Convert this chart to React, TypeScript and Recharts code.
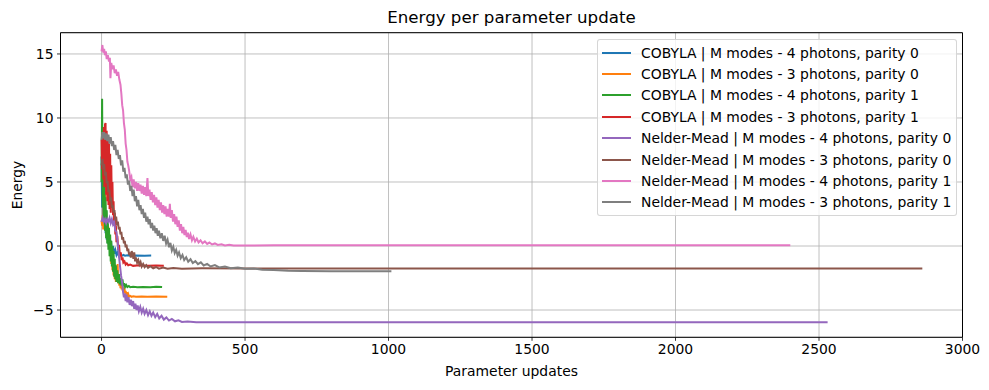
import React from "react";
import {
  LineChart,
  Line,
  XAxis,
  YAxis,
  CartesianGrid,
  Legend,
  ReferenceArea,
  Label,
} from "recharts";

// [parameter update, energy]
const cobyla4p0 = [
  [0, 7.0], [2, 3.0], [4, 6.2], [6, 2.2], [8, 4.8], [10, 1.5], [12, 3.6], [14, 1.0],
  [16, 2.8], [18, 0.5], [20, 2.0], [22, 0.2], [24, 1.3], [26, -0.1], [28, 0.8], [30, -0.3],
  [33, 0.4], [36, -0.5], [40, 0.0], [44, -0.6], [48, -0.3], [52, -0.7], [56, -0.5], [60, -0.75],
  [65, -0.6], [70, -0.78], [76, -0.7], [82, -0.76], [90, -0.72], [100, -0.76], [120, -0.74],
  [150, -0.76], [173, -0.75],
];

const cobyla3p0 = [
  [0, 2.0], [2, 1.6], [4, 2.4], [6, 1.3], [8, 3.9], [10, 1.8], [12, 4.3], [14, 1.2],
  [16, 2.6], [18, 0.9], [20, 2.0], [22, 0.4], [24, 1.5], [26, -0.2], [28, 0.8], [30, -0.8],
  [32, 0.3], [34, -1.4], [36, -0.6], [38, -1.9], [40, -1.1], [42, -2.3], [44, -1.6], [46, -2.6],
  [48, -2.0], [50, -2.8], [52, -1.9], [54, -2.5], [56, -1.4], [58, -2.9], [60, -2.2], [62, -3.1],
  [64, -2.5], [66, -3.3], [68, -2.8], [70, -3.4], [72, -3.0], [74, -3.5], [76, -3.2], [78, -3.6],
  [80, -3.3], [82, -3.7], [84, -3.5], [86, -3.8], [88, -3.6], [90, -3.9], [93, -3.75], [96, -3.95],
  [100, -3.9], [105, -3.97], [110, -3.92], [120, -3.96], [140, -3.95], [160, -3.97], [190, -3.95],
  [229, -3.96],
];

const cobyla4p1 = [
  [0, 5.0], [2, 11.5], [4, 3.0], [6, 8.0], [8, 2.0], [10, 5.5], [12, 1.2], [14, 3.8],
  [16, 0.6], [18, 2.8], [20, 0.2], [22, 2.0], [24, -0.3], [26, 1.4], [28, -0.8], [30, 0.9],
  [32, -1.2], [34, 0.4], [36, -1.6], [38, 0.0], [40, -2.0], [42, -0.4], [44, -2.4], [46, -1.0],
  [48, -2.6], [50, -1.5], [52, -2.8], [55, -1.9], [58, -2.9], [61, -2.2], [64, -3.0], [67, -2.5],
  [70, -3.1], [73, -2.6], [76, -3.15], [79, -2.9], [82, -3.2], [86, -3.05], [90, -3.2],
  [95, -3.12], [100, -3.22], [110, -3.18], [125, -3.22], [145, -3.2], [170, -3.22], [190, -3.19],
  [211, -3.21],
];

const cobyla3p1 = [
  [0, 8.3], [2, 6.0], [4, 8.9], [6, 5.2], [8, 9.3], [10, 4.6], [12, 9.5], [14, 9.6],
  [16, 4.0], [18, 9.0], [20, 3.5], [22, 8.6], [24, 3.2], [26, 8.0], [28, 2.9], [30, 7.2],
  [32, 2.6], [34, 6.3], [36, 3.0], [38, 5.0], [40, 2.4], [42, 3.5], [44, 1.6], [46, 2.6],
  [48, 0.9], [50, 1.6], [52, 0.3], [55, 0.8], [58, -0.3], [61, 0.1], [64, -0.8], [67, -0.5],
  [70, -1.1], [73, -0.9], [76, -1.3], [80, -1.2], [84, -1.45], [88, -1.35], [93, -1.5],
  [100, -1.45], [110, -1.55], [130, -1.5], [160, -1.55], [190, -1.52], [217, -1.55],
];

const nelder4p0 = [
  [0, 1.9], [4, 2.2], [8, 1.9], [12, 2.1], [16, 1.8], [20, 2.1], [24, 1.9], [28, 2.2],
  [32, 1.8], [36, 2.1], [40, 1.7], [44, 1.9], [48, 1.2], [52, 1.1], [56, 0.3], [60, -0.6],
  [64, -1.5], [68, -2.3], [72, -2.9], [75, -3.6], [78, -4.0], [81, -3.7], [84, -4.3], [87, -3.8],
  [90, -4.4], [94, -4.0], [98, -4.6], [102, -4.2], [106, -4.7], [110, -4.3], [114, -4.9],
  [118, -4.5], [122, -5.0], [126, -4.65], [130, -5.1], [135, -4.75], [140, -5.2], [145, -4.9],
  [150, -5.3], [156, -5.0], [162, -5.4], [168, -5.1], [174, -5.45], [180, -5.2], [187, -5.55],
  [194, -5.3], [201, -5.65], [209, -5.45], [217, -5.75], [226, -5.58], [235, -5.82], [245, -5.7],
  [256, -5.88], [268, -5.8], [280, -5.93], [300, -5.89], [330, -5.96], [380, -5.95],
  [500, -5.96], [1000, -5.96], [1500, -5.96], [2000, -5.96], [2530, -5.96],
];

const nelder3p0 = [
  [0, 6.3], [3, 6.8], [6, 6.0], [9, 6.4], [12, 5.5], [15, 5.8], [18, 4.9], [21, 5.1],
  [24, 4.2], [27, 4.4], [30, 3.5], [33, 3.8], [36, 3.0], [39, 3.2], [42, 2.6], [45, 2.8],
  [48, 2.0], [51, 2.3], [54, 1.6], [57, 1.9], [60, 1.3], [63, 1.5], [66, 0.9], [69, 1.1],
  [72, 0.5], [75, 0.7], [78, 0.2], [81, 0.4], [84, -0.1], [87, 0.1], [90, -0.4], [93, -0.2],
  [96, -0.7], [99, -0.5], [102, -0.9], [105, -0.4], [108, -0.6], [111, -1.0], [114, -0.5],
  [117, -1.2], [120, -0.9], [124, -1.3], [128, -1.1], [132, -1.45], [136, -1.25], [140, -1.6],
  [145, -1.4], [150, -1.65], [156, -1.5], [162, -1.7], [170, -1.58], [180, -1.74], [190, -1.64],
  [200, -1.77], [215, -1.68], [230, -1.78], [250, -1.71], [280, -1.77], [350, -1.74],
  [500, -1.75], [1500, -1.75], [2860, -1.75],
];

const nelder4p1 = [
  [0, 15.2], [3, 15.7], [6, 15.1], [9, 15.4], [12, 14.9], [15, 15.2], [18, 14.6], [22, 14.9],
  [26, 14.4], [29, 14.7], [31, 13.1], [34, 14.3], [38, 13.8], [42, 14.1], [46, 13.5], [50, 13.8],
  [54, 13.3], [58, 13.6], [62, 13.0], [66, 12.6], [69, 11.9], [72, 11.0], [75, 10.6], [78, 9.6],
  [81, 9.1], [84, 8.0], [87, 7.5], [90, 6.6], [93, 6.3], [96, 5.9], [100, 5.2], [104, 5.4],
  [108, 4.6], [112, 5.2], [116, 4.5], [120, 5.0], [124, 4.3], [128, 4.9], [132, 4.3], [136, 4.8],
  [140, 4.1], [144, 4.7], [148, 4.0], [152, 4.6], [156, 3.9], [160, 5.3], [163, 3.9], [167, 4.4],
  [171, 3.6], [175, 4.2], [179, 3.4], [183, 4.0], [187, 3.2], [191, 3.8], [195, 3.0], [199, 3.6],
  [203, 2.8], [207, 3.4], [211, 2.6], [215, 3.2], [219, 2.5], [223, 3.1], [227, 2.3], [231, 2.9],
  [235, 2.3], [238, 3.3], [241, 2.2], [245, 2.8], [249, 1.9], [253, 2.5], [257, 1.7], [261, 2.3],
  [265, 1.5], [269, 2.0], [273, 1.2], [277, 1.7], [281, 1.0], [285, 1.5], [289, 0.85], [293, 1.25],
  [297, 0.7], [301, 1.05], [305, 0.55], [310, 0.9], [315, 0.45], [320, 0.72], [326, 0.35],
  [332, 0.58], [338, 0.28], [345, 0.45], [352, 0.22], [360, 0.36], [368, 0.16], [376, 0.27],
  [385, 0.12], [395, 0.2], [405, 0.08], [418, 0.14], [430, 0.05], [445, 0.09], [460, 0.04],
  [600, 0.05], [1200, 0.05], [2400, 0.05],
];

const nelder3p1 = [
  [0, 8.3], [3, 8.9], [6, 8.4], [9, 8.9], [12, 8.3], [16, 8.8], [20, 8.2], [24, 8.7],
  [28, 8.0], [32, 8.5], [36, 7.8], [40, 8.2], [44, 7.5], [48, 7.9], [52, 7.1], [56, 7.5],
  [60, 6.8], [64, 7.1], [68, 6.3], [72, 6.7], [76, 5.8], [80, 6.1], [84, 5.3], [88, 5.6],
  [92, 4.8], [96, 5.1], [100, 4.3], [104, 4.7], [108, 3.9], [112, 4.4], [116, 3.5], [120, 3.9],
  [124, 3.1], [128, 3.6], [132, 2.8], [136, 3.2], [140, 2.5], [144, 2.9], [148, 2.2], [152, 2.6],
  [156, 1.9], [160, 2.3], [164, 1.7], [168, 2.1], [172, 1.4], [176, 1.8], [180, 1.2], [184, 1.6],
  [188, 1.0], [192, 1.4], [196, 0.8], [200, 1.2], [205, 0.6], [210, 1.0], [215, 0.4], [220, 0.8],
  [225, 0.2], [230, 0.5], [235, -0.1], [240, 0.25], [245, -0.35], [250, -0.05], [255, -0.55],
  [260, -0.3], [265, -0.75], [270, -0.5], [276, -0.95], [282, -0.7], [288, -1.1], [295, -0.88],
  [302, -1.22], [310, -1.03], [318, -1.33], [327, -1.18], [336, -1.42], [346, -1.28], [356, -1.52],
  [368, -1.4], [380, -1.6], [395, -1.49], [410, -1.67], [430, -1.6], [450, -1.73], [475, -1.68],
  [500, -1.78], [530, -1.75], [560, -1.85], [600, -1.88], [650, -1.94], [700, -1.96],
  [800, -1.97], [900, -1.97], [1010, -1.97],
];

const seriesNames = [
  "COBYLA | M modes - 4 photons, parity 0",
  "COBYLA | M modes - 3 photons, parity 0",
  "COBYLA | M modes - 4 photons, parity 1",
  "COBYLA | M modes - 3 photons, parity 1",
  "Nelder-Mead | M modes - 4 photons, parity 0",
  "Nelder-Mead | M modes - 3 photons, parity 0",
  "Nelder-Mead | M modes - 4 photons, parity 1",
  "Nelder-Mead | M modes - 3 photons, parity 1",
];
const seriesValues = [
  cobyla4p0, cobyla3p0, cobyla4p1, cobyla3p1,
  nelder4p0, nelder3p0, nelder4p1, nelder3p1,
];
const colors = [
  "#1f77b4", "#ff7f0e", "#2ca02c", "#d62728",
  "#9467bd", "#8c564b", "#e377c2", "#7f7f7f",
];

const xTicks = [0, 500, 1000, 1500, 2000, 2500, 3000];
const yTicks = [-5, 0, 5, 10, 15];
const xDomain = [-143, 3000];
const yDomain = [-7.13, 16.66];

const font = "'DejaVu Sans', sans-serif";
const minus = (v: number) => String(v).replace("-", "\u2212");

const LegendBox = () => (
  <div
    style={{
      background: "rgba(255,255,255,0.8)",
      border: "1px solid rgba(204,204,204,0.8)",
      borderRadius: 3,
      padding: "2px 0 2px 0",
      fontFamily: font,
      fontSize: 13.9,
      color: "#000",
      boxSizing: "border-box",
    }}
  >
    {seriesNames.map((name, i) => (
      <div
        key={name}
        style={{ display: "flex", alignItems: "center", height: 21.4, whiteSpace: "nowrap" }}
      >
        <span
          style={{
            display: "inline-block",
            width: 29,
            height: 2,
            background: colors[i],
            marginLeft: 4,
            marginRight: 10,
          }}
        />
        <span>{name}</span>
      </div>
    ))}
  </div>
);

const App: React.FC = () => {
  return (
    <div style={{ position: "absolute", left: 0, top: 0, width: 989, height: 390, fontFamily: font, background: "#fff" }}>
      <div
        style={{
          position: "absolute",
          left: 0,
          width: 1023,
          top: 10,
          textAlign: "center",
          fontSize: 16.67,
          lineHeight: 1,
          color: "#000",
        }}
      >
        Energy per parameter update
      </div>
      <LineChart
        width={989}
        height={390}
        margin={{ top: 32.7, right: 26.5, bottom: 0, left: 0 }}
      >
        <CartesianGrid stroke="#b0b0b0" strokeWidth={0.8} />
        <XAxis
          type="number"
          dataKey="x"
          domain={xDomain}
          ticks={xTicks}
          allowDataOverflow
          height={52.7}
          axisLine={false}
          tickSize={3.5}
          tickMargin={3.5}
          tickLine={{ stroke: "#000", strokeWidth: 0.8 }}
          tick={{ fill: "#000", fontSize: 13.9, fontFamily: font }}
        >
          <Label
            value="Parameter updates"
            position="insideBottom"
            offset={14}
            style={{ fill: "#000", fontSize: 13.9, fontFamily: font }}
          />
        </XAxis>
        <YAxis
          type="number"
          dataKey="y"
          domain={yDomain}
          ticks={yTicks}
          allowDataOverflow
          width={60.5}
          axisLine={false}
          tickSize={3.5}
          tickMargin={3.5}
          tickFormatter={minus}
          tickLine={{ stroke: "#000", strokeWidth: 0.8 }}
          tick={{ fill: "#000", fontSize: 13.9, fontFamily: font }}
        >
          <Label
            value="Energy"
            angle={-90}
            position="insideLeft"
            offset={17}
            style={{ fill: "#000", fontSize: 13.9, fontFamily: font, textAnchor: "middle" }}
          />
        </YAxis>
        {seriesValues.map((rows, i) => (
          <Line
            key={seriesNames[i]}
            name={seriesNames[i]}
            data={rows.map(([x, y]) => ({ x, y }))}
            dataKey="y"
            type="linear"
            stroke={colors[i]}
            strokeWidth={2}
            dot={false}
            activeDot={false}
            isAnimationActive={false}
          />
        ))}
        <ReferenceArea
          x1={xDomain[0]}
          x2={xDomain[1]}
          y1={yDomain[0]}
          y2={yDomain[1]}
          fill="none"
          fillOpacity={0}
          stroke="#000"
          strokeWidth={1}
          ifOverflow="visible"
        />
        <Legend
          layout="vertical"
          align="center"
          verticalAlign="middle"
          wrapperStyle={{ left: 597, top: 39, width: 360 }}
          content={() => <LegendBox />}
        />
      </LineChart>
    </div>
  );
};

export default App;
